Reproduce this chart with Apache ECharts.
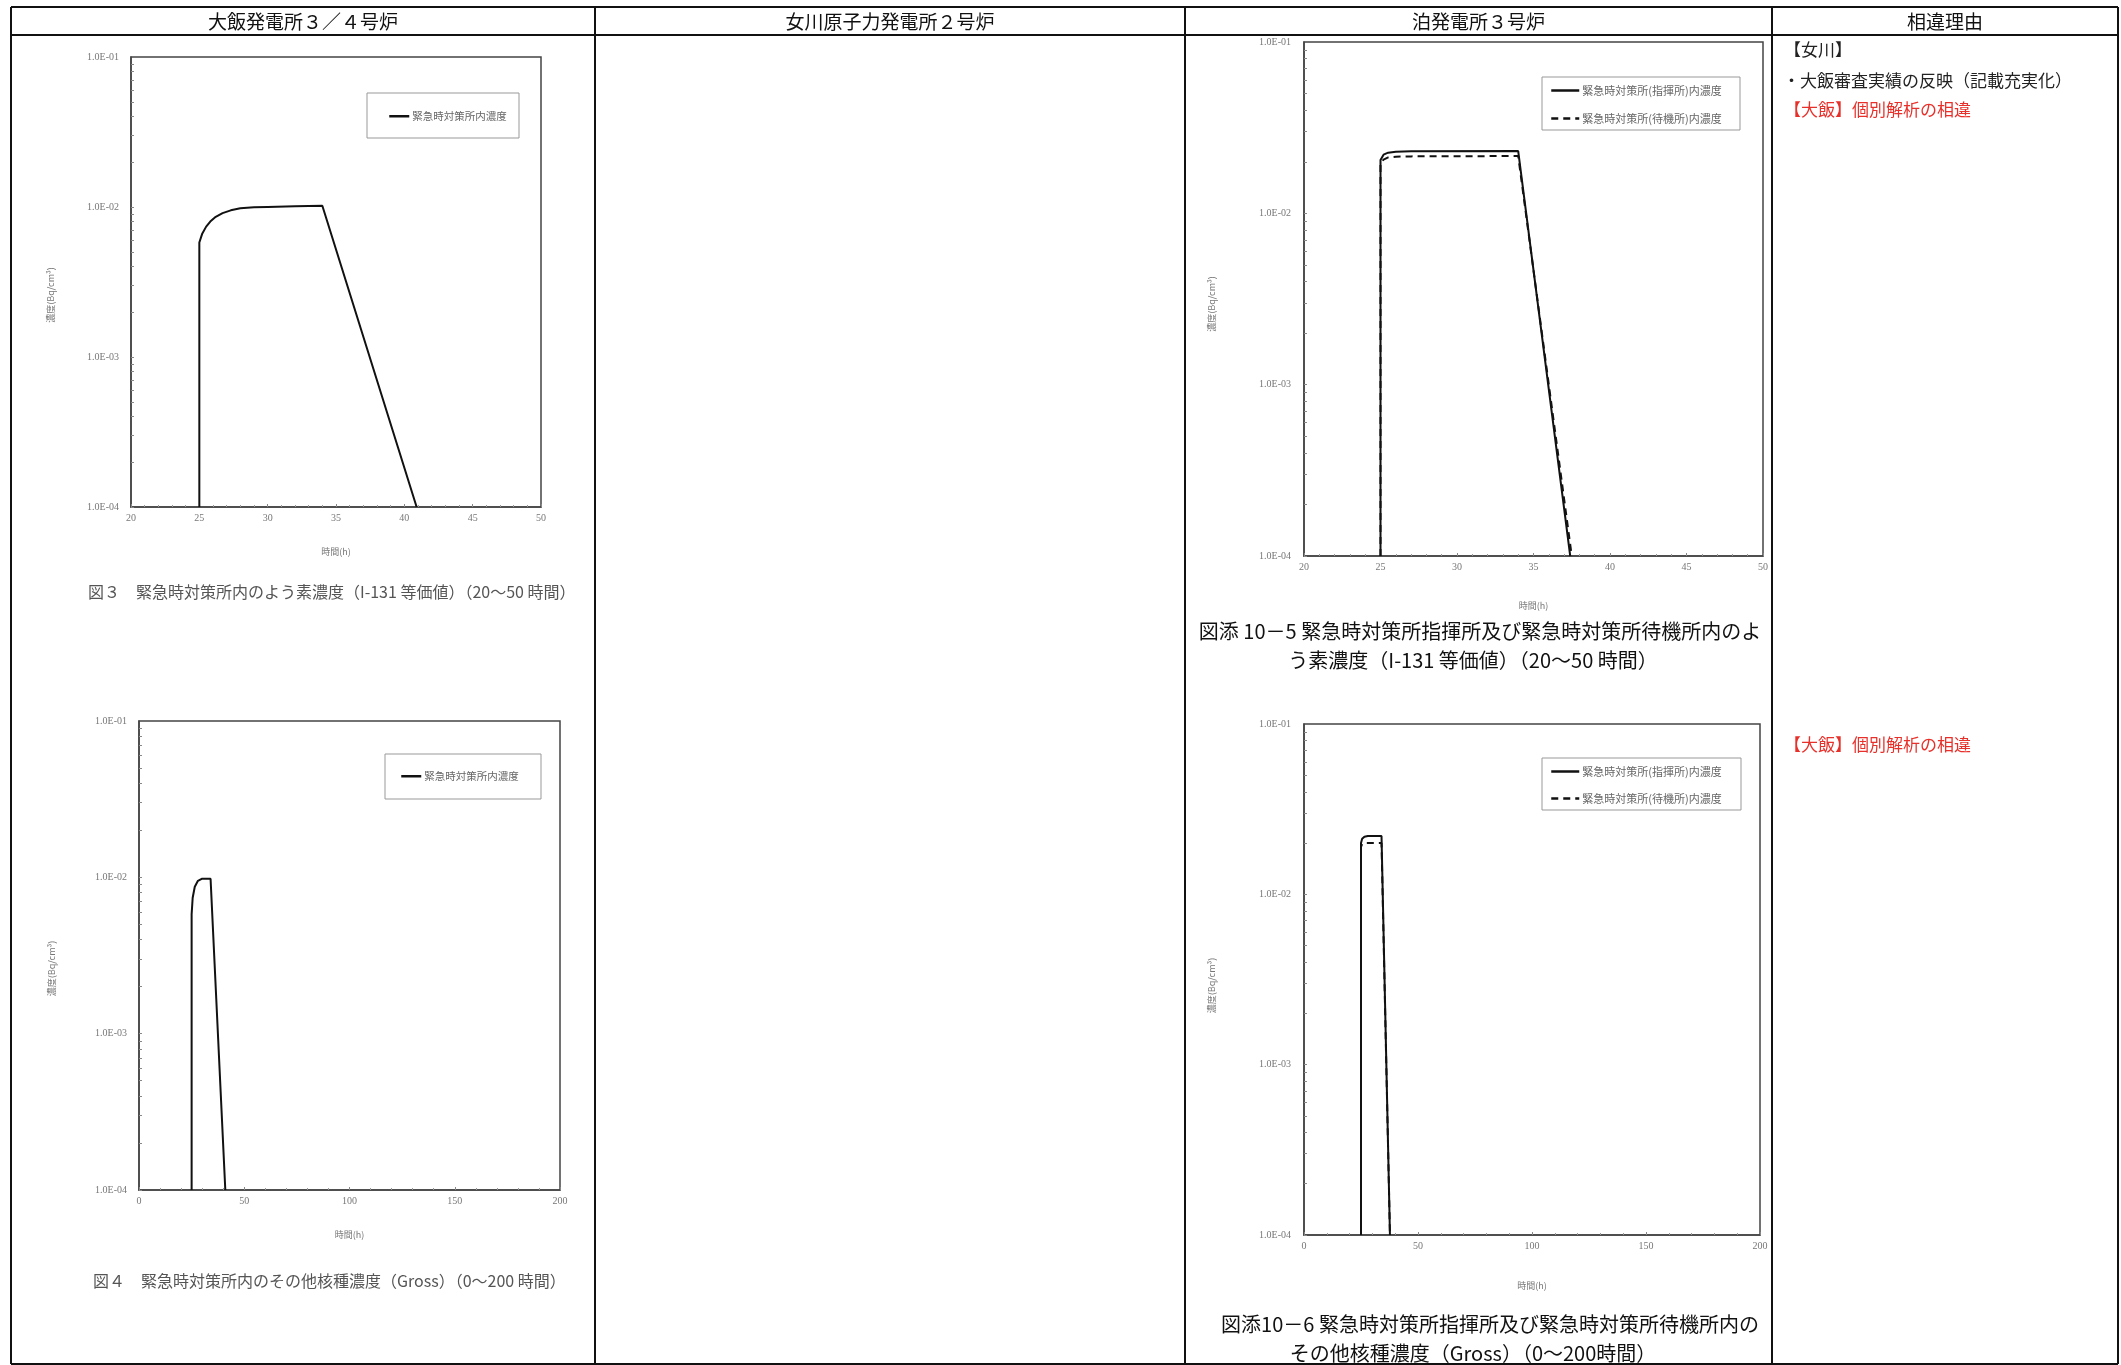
<!DOCTYPE html>
<html>
<head>
<meta charset="utf-8">
<script src="https://cdn.jsdelivr.net/npm/echarts@6/dist/echarts.min.js"></script>
<style>
html, body { margin: 0; padding: 0; background: #fff; }
#page { width: 2121px; height: 1365px; }
</style>
</head>
<body>
<div id="page"></div>
<script>
// 表のヘッダ
const columnTitles = ['大飯発電所３／４号炉', '女川原子力発電所２号炉', '泊発電所３号炉', '相違理由'];

// 図3 大飯 よう素濃度 (20～50時間)
const ohiIodineHours = [25, 25, 25.2, 25.5, 25.8, 26.2, 26.7, 27.3, 28, 29, 30, 32, 34, 40.9];
const ohiIodineConc = [1e-4, 5.8e-3, 6.6e-3, 7.4e-3, 8.0e-3, 8.6e-3, 9.1e-3, 9.5e-3, 9.8e-3, 9.95e-3, 1.0e-2, 1.01e-2, 1.02e-2, 1e-4];

// 図4 大飯 その他核種濃度 (0～200時間)
const ohiGrossHours = [25, 25, 25.5, 26.5, 28, 30, 34, 41];
const ohiGrossConc = [1e-4, 5.8e-3, 7.4e-3, 8.7e-3, 9.5e-3, 9.8e-3, 9.8e-3, 1e-4];

// 図添10-5 泊 よう素濃度 (20～50時間)
const tomariIodineHoursCmd = [25, 25, 25.2, 25.5, 26, 27, 34, 37.4];
const tomariIodineCmd = [1e-4, 2.05e-2, 2.2e-2, 2.26e-2, 2.29e-2, 2.3e-2, 2.31e-2, 1e-4];
const tomariIodineHoursStby = [25, 25, 25.2, 25.5, 26, 27, 34, 37.5];
const tomariIodineStby = [1e-4, 1.95e-2, 2.06e-2, 2.12e-2, 2.14e-2, 2.15e-2, 2.16e-2, 1e-4];

// 図添10-6 泊 その他核種濃度 (0～200時間)
const tomariGrossHours = [25, 25, 25.5, 26.5, 28, 34, 37.7];
const tomariGrossCmd = [1e-4, 2.0e-2, 2.12e-2, 2.18e-2, 2.2e-2, 2.2e-2, 1e-4];
const tomariGrossStby = [1e-4, 1.9e-2, 1.97e-2, 2.0e-2, 2.0e-2, 2.0e-2, 1e-4];

const nameOhi = '緊急時対策所内濃度';
const nameCmd = '緊急時対策所(指揮所)内濃度';
const nameStby = '緊急時対策所(待機所)内濃度';

// 対数軸の目盛り位置 (1,2,...,9 × 10^n)
const logTicks = [];
for (let e = -4; e <= -2; e++) {
  for (let m = 1; m <= 9; m++) logTicks.push(m * Math.pow(10, e));
}
logTicks.push(1e-1);

function zip(xs, ys) {
  return xs.map((x, i) => [x, ys[i]]);
}

function expLabel(v) {
  const e = Math.round(Math.log10(v));
  return '1.0E' + (e < 0 ? '-' : '+') + String(Math.abs(e)).padStart(2, '0');
}

const grids = [
  { left: 131, top: 57, width: 410, height: 450 },
  { left: 139, top: 721, width: 421, height: 469 },
  { left: 1304, top: 42, width: 459, height: 514 },
  { left: 1304, top: 724, width: 456, height: 511 }
];
const xRanges = [[20, 50, 5], [0, 200, 50], [20, 50, 5], [0, 200, 50]];
const xNameGaps = [40, 40, 45, 46];
const yNameGaps = [76, 83, 88, 88];
const yNameShift = [26, 26, 10, 12];

const labelFont = { fontFamily: 'Liberation Serif', fontSize: 10, color: '#777' };

const option = {
  animation: false,
  backgroundColor: '#fff',
  grid: grids.map(g => Object.assign({ show: true, borderColor: '#444', borderWidth: 1.5, backgroundColor: 'transparent' }, g)),
  xAxis: xRanges.map((r, i) => ({
    type: 'value',
    gridIndex: i,
    min: r[0], max: r[1], interval: r[2],
    name: '時間(h)',
    nameLocation: 'middle',
    nameGap: xNameGaps[i],
    nameTextStyle: { fontFamily: 'Noto Sans CJK JP', fontSize: 9, color: '#777' },
    axisLine: { show: true, lineStyle: { color: '#444', width: 1.5 } },
    axisTick: { show: true, inside: true, length: 3, lineStyle: { color: '#888' } },
    minorTick: { show: true, splitNumber: 5, length: 2, lineStyle: { color: '#999' } },
    axisLabel: Object.assign({ margin: 6 }, labelFont),
    splitLine: { show: false }
  })),
  yAxis: grids.map((g, i) => ({
    type: 'log',
    logBase: 10,
    gridIndex: i,
    min: 1e-4, max: 1e-1,
    name: '濃度(Bq/cm³)',
    nameLocation: 'middle',
    nameRotate: 90,
    nameGap: yNameGaps[i],
    nameTextStyle: { fontFamily: 'Noto Sans CJK JP', fontSize: 9, color: '#777', padding: [0, yNameShift[i], 0, 0] },
    axisLine: { show: true, lineStyle: { color: '#444', width: 1.5 } },
    axisTick: { show: true, inside: true, length: 3, customValues: logTicks, lineStyle: { color: '#888' } },
    axisLabel: Object.assign({ margin: i < 2 ? 12 : 13, formatter: expLabel }, labelFont),
    splitLine: { show: false }
  })),
  legend: [
    { data: [nameOhi], left: 388, top: 111, textStyle: { fontSize: 10.5 } },
    { data: [nameOhi], left: 400, top: 771, textStyle: { fontSize: 10.5 } },
    { data: [nameCmd, nameStby], left: 1550, top: 85, orient: 'vertical', itemGap: 17, itemWidth: 28, textStyle: { fontSize: 11 } },
    { data: [nameCmd, nameStby], left: 1550, top: 766, orient: 'vertical', itemGap: 16, itemWidth: 28, textStyle: { fontSize: 11 } }
  ].map(l => Object.assign({
    itemWidth: 20, itemHeight: 10, itemGap: 10, padding: 0,
    itemStyle: { opacity: 0, color: 'rgba(0,0,0,0)', borderWidth: 0 },
    lineStyle: { width: 2.5 },
    selectedMode: false
  }, l, {
    textStyle: { fontFamily: 'Noto Sans CJK JP', fontSize: l.textStyle.fontSize, color: '#666', padding: [0, 0, 0, -2] }
  })),
  series: [
    { name: nameOhi, xAxisIndex: 0, yAxisIndex: 0, data: zip(ohiIodineHours, ohiIodineConc) },
    { name: nameOhi, xAxisIndex: 1, yAxisIndex: 1, data: zip(ohiGrossHours, ohiGrossConc) },
    { name: nameCmd, xAxisIndex: 2, yAxisIndex: 2, data: zip(tomariIodineHoursCmd, tomariIodineCmd) },
    { name: nameStby, xAxisIndex: 2, yAxisIndex: 2, data: zip(tomariIodineHoursStby, tomariIodineStby), dashed: true },
    { name: nameCmd, xAxisIndex: 3, yAxisIndex: 3, data: zip(tomariGrossHours, tomariGrossCmd) },
    { name: nameStby, xAxisIndex: 3, yAxisIndex: 3, data: zip(tomariGrossHours, tomariGrossStby), dashed: true }
  ].map(s => ({
    type: 'line',
    name: s.name,
    xAxisIndex: s.xAxisIndex,
    yAxisIndex: s.yAxisIndex,
    data: s.data,
    symbol: 'none',
    clip: false,
    lineStyle: { color: '#111', width: 2, type: s.dashed ? [7, 5] : 'solid' },
    itemStyle: { color: '#111' }
  })),
  graphic: []
};

// 表の罫線
const tableLine = { stroke: '#111', lineWidth: 2 };
const vLines = [11, 595, 1185, 1772, 2118];
vLines.forEach(x => option.graphic.push({ type: 'line', shape: { x1: x, y1: 7, x2: x, y2: 1364 }, style: tableLine, z: 10 }));
[7, 35, 1364].forEach(y => option.graphic.push({ type: 'line', shape: { x1: 11, y1: y, x2: 2118, y2: y }, style: tableLine, z: 10 }));

// ヘッダ文字
columnTitles.forEach((t, i) => {
  option.graphic.push({
    type: 'text', x: (vLines[i] + vLines[i + 1]) / 2, y: 22,
    style: { text: t, fontFamily: 'Noto Sans CJK JP', fontSize: 19, fill: '#111', align: 'center', verticalAlign: 'middle' }
  });
});

// 凡例の枠
[[367, 93, 152, 45], [385, 754, 156, 45], [1542, 77, 198, 53], [1542, 758, 199, 52]].forEach(b => {
  option.graphic.push({ type: 'rect', shape: { x: b[0], y: b[1], width: b[2], height: b[3] }, style: { fill: 'none', stroke: '#999', lineWidth: 1 } });
});

// 図のキャプション
const capStyle = { fontFamily: 'Noto Sans CJK JP', verticalAlign: 'middle' };
option.graphic.push(
  { type: 'text', x: 88, y: 592, style: Object.assign({ text: '図３　緊急時対策所内のよう素濃度（I-131 等価値）（20～50 時間）', fontSize: 16, fill: '#555', align: 'left' }, capStyle) },
  { type: 'text', x: 93, y: 1281, style: Object.assign({ text: '図４　緊急時対策所内のその他核種濃度（Gross）（0～200 時間）', fontSize: 16, fill: '#555', align: 'left' }, capStyle) },
  { type: 'text', x: 1480, y: 631, style: Object.assign({ text: '図添 10－5 緊急時対策所指揮所及び緊急時対策所待機所内のよ', fontSize: 20, fill: '#111', align: 'center' }, capStyle) },
  { type: 'text', x: 1473, y: 660, style: Object.assign({ text: 'う素濃度（I-131 等価値）（20～50 時間）', fontSize: 20, fill: '#111', align: 'center' }, capStyle) },
  { type: 'text', x: 1490, y: 1324, style: Object.assign({ text: '図添10－6 緊急時対策所指揮所及び緊急時対策所待機所内の', fontSize: 20, fill: '#111', align: 'center' }, capStyle) },
  { type: 'text', x: 1473, y: 1353, style: Object.assign({ text: 'その他核種濃度（Gross）（0～200時間）', fontSize: 20, fill: '#111', align: 'center' }, capStyle) }
);

// 相違理由
const reasonStyle = { fontFamily: 'Noto Sans CJK JP', fontSize: 17, verticalAlign: 'middle', align: 'left' };
option.graphic.push(
  { type: 'text', x: 1784, y: 50, style: Object.assign({ text: '【女川】', fill: '#222' }, reasonStyle) },
  { type: 'text', x: 1783, y: 81, style: Object.assign({ text: '・大飯審査実績の反映（記載充実化）', fill: '#222' }, reasonStyle) },
  { type: 'text', x: 1784, y: 110, style: Object.assign({ text: '【大飯】個別解析の相違', fill: '#e8302a' }, reasonStyle) },
  { type: 'text', x: 1784, y: 745, style: Object.assign({ text: '【大飯】個別解析の相違', fill: '#e8302a' }, reasonStyle) }
);

const myChart = echarts.init(document.getElementById('page'));
myChart.setOption(option);
</script>
</body>
</html>
